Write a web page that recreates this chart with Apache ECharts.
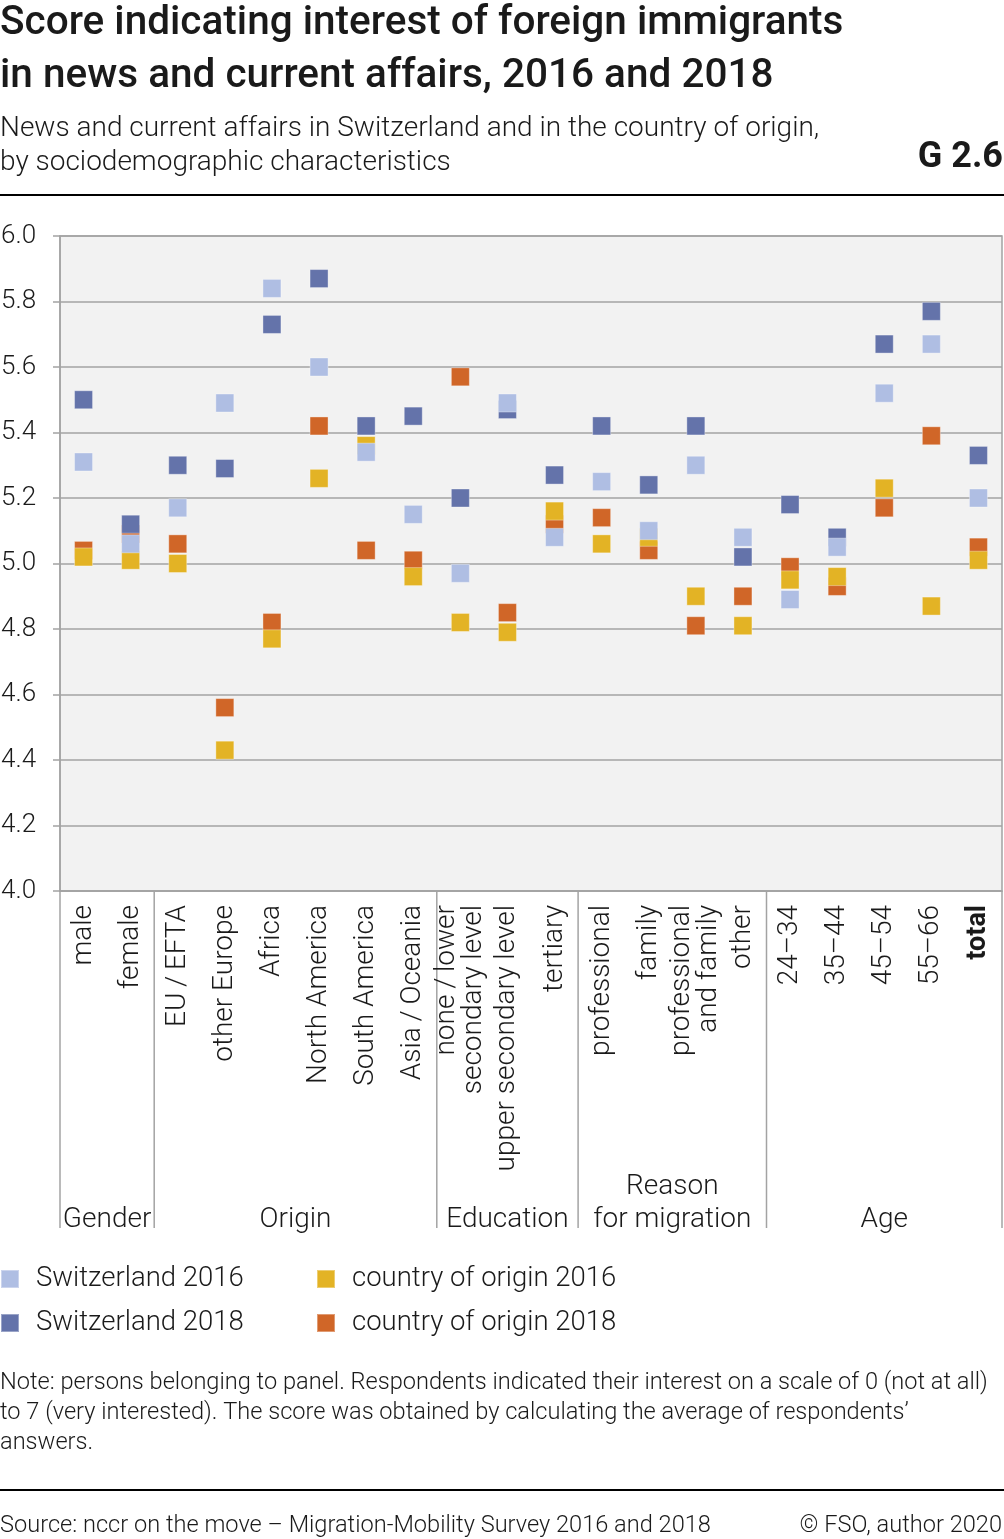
<!DOCTYPE html>
<html>
<head>
<meta charset="utf-8">
<script src="https://cdn.jsdelivr.net/npm/echarts@6/dist/echarts.min.js"></script>
<style>
  html, body { margin: 0; padding: 0; background: #ffffff; }
  #chart { width: 1004px; height: 1539px; }
</style>
</head>
<body>
<div id="chart"></div>
<script>
const categories = ['male', 'female', 'EU\u2009/\u2009EFTA', 'other Europe', 'Africa', 'North America',
  'South America', 'Asia\u2009/\u2009Oceania', 'none\u2009/\u2009lower\nsecondary level', 'upper secondary level',
  'tertiary', 'professional', 'family', 'professional\nand family', 'other',
  '24\u201334', '35\u201344', '45\u201354', '55\u201366', 'total'];

const swiss2016  = [5.31, 5.06, 5.17, 5.49, 5.84, 5.60, 5.34, 5.15, 4.97, 5.49, 5.08, 5.25, 5.10, 5.30, 5.08, 4.89, 5.05, 5.52, 5.67, 5.20];
const swiss2018  = [5.50, 5.12, 5.30, 5.29, 5.73, 5.87, 5.42, 5.45, 5.20, 5.47, 5.27, 5.42, 5.24, 5.42, 5.02, 5.18, 5.08, 5.67, 5.77, 5.33];
const origin2016 = [5.02, 5.01, 5.00, 4.43, 4.77, 5.26, 5.36, 4.96, 4.82, 4.79, 5.16, 5.06, 5.08, 4.90, 4.81, 4.95, 4.96, 5.23, 4.87, 5.01];
const origin2018 = [5.04, 5.09, 5.06, 4.56, 4.82, 5.42, 5.04, 5.01, 5.57, 4.85, 5.12, 5.14, 5.04, 4.81, 4.90, 4.99, 4.93, 5.17, 5.39, 5.05];

const groupNames = ['Gender', 'Origin', 'Education', 'Reason\nfor migration', 'Age'];
const groupSizes = [2, 6, 3, 4, 5];

const yTicks = { min: 4.0, max: 6.0, interval: 0.2 };

const FONT = 'Roboto';
const TXT = '#1a1a1a';
const GRID = '#a3a3a3';
const COL = { s16: '#afbee3', s18: '#6473aa', o16: '#e3b325', o18: '#d06628' };

const chart = echarts.init(document.getElementById('chart'), null, { renderer: 'canvas' });

function scatter(name, data, color) {
  return {
    name: name, type: 'scatter', data: data, symbol: 'rect', symbolSize: 18,
    itemStyle: { color: color, borderColor: 'rgba(255,255,255,0.35)', borderWidth: 1, opacity: 1 },
    emphasis: { disabled: true }
  };
}

const legendBase = {
  orient: 'vertical', top: 1265, itemWidth: 18, itemHeight: 18, itemGap: 16,
  icon: 'rect', padding: 0,
  textStyle: { fontFamily: FONT, fontWeight: 300, fontSize: 27.5, lineHeight: 28, color: TXT, padding: [0, 0, 0, 12] }
};

const option = {
  backgroundColor: '#ffffff',
  animation: false,
  textStyle: { fontFamily: FONT },
  title: [
    { text: 'Score indicating interest of foreign immigrants\nin news and current affairs, 2016 and 2018',
      left: 0, top: -3, padding: 0,
      textStyle: { fontFamily: FONT, fontWeight: 500, fontSize: 40.5, lineHeight: 53, color: TXT } },
    { text: 'News and current affairs in Switzerland and in the country of origin,\nby sociodemographic characteristics',
      left: 0, top: 112, padding: 0,
      textStyle: { fontFamily: FONT, fontWeight: 300, fontSize: 28, lineHeight: 34, color: TXT } },
    { text: 'G 2.6', right: 1, top: 138, padding: 0,
      textStyle: { fontFamily: FONT, fontWeight: 'bold', fontSize: 36, lineHeight: 40, color: TXT } },
    { text: 'Note: persons belonging to panel. Respondents indicated their interest on a scale of 0 (not at all)\nto 7 (very interested). The score was obtained by calculating the average of respondents\u2019\nanswers.',
      left: 0, top: 1368, padding: 0,
      textStyle: { fontFamily: FONT, fontWeight: 300, fontSize: 23.6, lineHeight: 30, color: TXT } },
    { text: 'Source: nccr on the move \u2013 Migration-Mobility Survey 2016 and 2018',
      left: 0, top: 1511, padding: 0,
      textStyle: { fontFamily: FONT, fontWeight: 300, fontSize: 23.6, lineHeight: 30, color: TXT } },
    { text: '\u00a9 FSO, author 2020',
      right: 2, top: 1511, padding: 0,
      textStyle: { fontFamily: FONT, fontWeight: 300, fontSize: 23.6, lineHeight: 30, color: TXT } }
  ],
  legend: [
    Object.assign({}, legendBase, { left: 0, data: ['Switzerland 2016', 'Switzerland 2018'] }),
    Object.assign({}, legendBase, { left: 316, data: ['country of origin 2016', 'country of origin 2018'] })
  ],
  grid: {
    left: 60, right: 2, top: 236, bottom: 648, show: true,
    containLabel: false, outerBoundsMode: 'none',
    backgroundColor: '#f2f2f2', borderColor: GRID, borderWidth: 1.5
  },
  xAxis: {
    type: 'category', data: categories, boundaryGap: true,
    axisLine: { show: true, lineStyle: { color: GRID, width: 1.5 } },
    axisTick: { show: false },
    splitLine: { show: false },
    axisLabel: {
      interval: 0, rotate: 90, margin: 14, color: TXT,
      fontFamily: FONT, fontWeight: 300, fontSize: 28, lineHeight: 27,
      formatter: function (v) { return v === 'total' ? '{b|total}' : v; },
      rich: { b: { fontFamily: FONT, fontWeight: 'bold', fontSize: 27, color: TXT } }
    }
  },
  yAxis: {
    type: 'value', min: yTicks.min, max: yTicks.max, interval: yTicks.interval,
    axisLine: { show: true, lineStyle: { color: GRID, width: 1.5 } },
    axisTick: { show: true, length: 7, lineStyle: { color: GRID, width: 1.5 } },
    splitLine: { show: true, lineStyle: { color: GRID, width: 1.5 } },
    axisLabel: {
      align: 'left', margin: 59, color: TXT, fontFamily: FONT, fontWeight: 300, fontSize: 26,
      formatter: function (v) { return v.toFixed(1); }
    }
  },
  series: [
    scatter('country of origin 2018', origin2018, COL.o18),
    scatter('Switzerland 2018', swiss2018, COL.s18),
    scatter('country of origin 2016', origin2016, COL.o16),
    scatter('Switzerland 2016', swiss2016, COL.s16)
  ]
};

chart.setOption(option);

// group separators and group labels, positioned from the axis scale
const c0 = chart.convertToPixel({ xAxisIndex: 0 }, 0);
const c1 = chart.convertToPixel({ xAxisIndex: 0 }, 1);
const cw = c1 - c0;
const xb = function (k) { return c0 - cw / 2 + k * cw; };
const yBottom = chart.convertToPixel({ yAxisIndex: 0 }, yTicks.min);
const extBottom = yBottom + 337;

const graphics = [];
graphics.push({ type: 'rect', shape: { x: 0, y: 194, width: 1004, height: 2 }, style: { fill: '#000' }, silent: true });
graphics.push({ type: 'rect', shape: { x: 0, y: 1489, width: 1004, height: 2 }, style: { fill: '#000' }, silent: true });

let start = 0;
const bounds = [0];
groupSizes.forEach(function (s) { start += s; bounds.push(start); });
bounds.forEach(function (k) {
  graphics.push({ type: 'line', shape: { x1: xb(k), y1: yBottom, x2: xb(k), y2: extBottom },
    style: { stroke: GRID, lineWidth: 1.5 }, silent: true });
});
start = 0;
groupNames.forEach(function (g, i) {
  const a = xb(start), b = xb(start + groupSizes[i]);
  start += groupSizes[i];
  graphics.push({ type: 'text', x: (a + b) / 2, y: extBottom + 8, silent: true,
    style: { text: g, fontFamily: FONT, fontWeight: 300, fontSize: 28, lineHeight: 33,
      fill: TXT, align: 'center', verticalAlign: 'bottom' } });
});
chart.setOption({ graphic: graphics });
</script>
</body>
</html>
